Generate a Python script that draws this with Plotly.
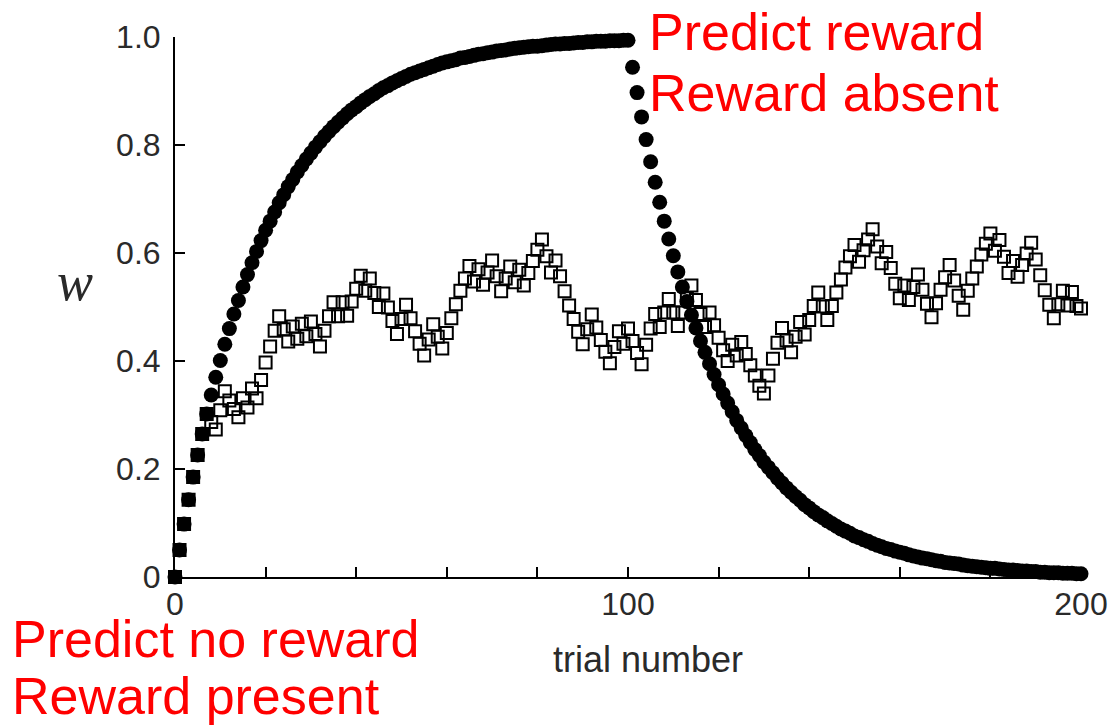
import plotly.graph_objects as go

# trial numbers
trials = list(range(0, 201))

# filled circles: predicted reward w (learning, then extinction)
w_circles = [
    0.000, 0.050, 0.098, 0.143, 0.185, 0.226, 0.265, 0.302, 0.337, 0.370,
    0.401, 0.431, 0.460, 0.487, 0.512, 0.537, 0.560, 0.582, 0.603, 0.623,
    0.642, 0.659, 0.676, 0.693, 0.708, 0.723, 0.736, 0.750, 0.762, 0.774,
    0.785, 0.796, 0.806, 0.816, 0.825, 0.834, 0.842, 0.850, 0.858, 0.865,
    0.871, 0.878, 0.884, 0.890, 0.895, 0.901, 0.906, 0.910, 0.915, 0.919,
    0.923, 0.927, 0.931, 0.934, 0.937, 0.940, 0.943, 0.946, 0.949, 0.952,
    0.954, 0.956, 0.958, 0.961, 0.962, 0.964, 0.966, 0.968, 0.969, 0.971,
    0.972, 0.974, 0.975, 0.976, 0.978, 0.979, 0.980, 0.981, 0.982, 0.983,
    0.983, 0.984, 0.985, 0.986, 0.987, 0.987, 0.988, 0.988, 0.989, 0.990,
    0.990, 0.991, 0.991, 0.992, 0.992, 0.992, 0.993, 0.993, 0.993, 0.994,
    0.994,
    0.944, 0.897, 0.852, 0.810, 0.769, 0.731, 0.694, 0.659, 0.626, 0.595,
    0.565, 0.537, 0.510, 0.485, 0.461, 0.437, 0.416, 0.395, 0.375, 0.356,
    0.339, 0.322, 0.306, 0.290, 0.276, 0.262, 0.249, 0.236, 0.225, 0.213,
    0.203, 0.193, 0.183, 0.174, 0.165, 0.157, 0.149, 0.142, 0.134, 0.128,
    0.121, 0.115, 0.110, 0.104, 0.099, 0.094, 0.089, 0.085, 0.081, 0.076,
    0.073, 0.069, 0.066, 0.062, 0.059, 0.056, 0.053, 0.051, 0.048, 0.046,
    0.044, 0.041, 0.039, 0.037, 0.035, 0.034, 0.032, 0.030, 0.029, 0.027,
    0.026, 0.025, 0.024, 0.022, 0.021, 0.020, 0.019, 0.018, 0.017, 0.016,
    0.016, 0.015, 0.014, 0.013, 0.013, 0.012, 0.011, 0.011, 0.010, 0.010,
    0.009, 0.009, 0.008, 0.008, 0.008, 0.007, 0.007, 0.007, 0.006, 0.006,
]

# open squares: w under partial (random) reward
w_squares = [
    0.000, 0.050, 0.098, 0.143, 0.185, 0.226, 0.265, 0.302, 0.287, 0.273,
    0.309, 0.344, 0.327, 0.311, 0.296, 0.331, 0.314, 0.349, 0.331, 0.365,
    0.397, 0.427, 0.456, 0.483, 0.459, 0.436, 0.464, 0.441, 0.469, 0.446,
    0.473, 0.450, 0.427, 0.456, 0.483, 0.509, 0.483, 0.509, 0.484, 0.510,
    0.534, 0.558, 0.530, 0.553, 0.526, 0.500, 0.525, 0.499, 0.474, 0.450,
    0.478, 0.504, 0.479, 0.455, 0.432, 0.410, 0.440, 0.468, 0.445, 0.423,
    0.452, 0.479, 0.505, 0.530, 0.553, 0.576, 0.547, 0.570, 0.541, 0.564,
    0.586, 0.557, 0.529, 0.553, 0.575, 0.546, 0.569, 0.540, 0.563, 0.585,
    0.606, 0.625, 0.594, 0.564, 0.586, 0.557, 0.529, 0.503, 0.478, 0.454,
    0.431, 0.459, 0.486, 0.462, 0.439, 0.417, 0.396, 0.426, 0.455, 0.432,
    0.460, 0.437, 0.415, 0.394, 0.430, 0.460, 0.487, 0.463, 0.490, 0.515,
    0.490, 0.465, 0.490, 0.516, 0.540, 0.513, 0.487, 0.463, 0.490, 0.466,
    0.443, 0.420, 0.400, 0.430, 0.410, 0.435, 0.413, 0.392, 0.373, 0.354,
    0.340, 0.373, 0.404, 0.434, 0.461, 0.438, 0.416, 0.445, 0.472, 0.449,
    0.476, 0.502, 0.527, 0.501, 0.476, 0.502, 0.527, 0.551, 0.573, 0.594,
    0.615, 0.584, 0.605, 0.625, 0.644, 0.612, 0.581, 0.602, 0.572, 0.543,
    0.516, 0.540, 0.513, 0.537, 0.560, 0.532, 0.506, 0.481, 0.507, 0.532,
    0.555, 0.578, 0.549, 0.521, 0.495, 0.530, 0.553, 0.575, 0.597, 0.617,
    0.636, 0.604, 0.624, 0.593, 0.563, 0.585, 0.556, 0.578, 0.599, 0.619,
    0.588, 0.559, 0.531, 0.504, 0.479, 0.505, 0.530, 0.503, 0.528, 0.502,
    0.497,
]

assert len(w_circles) == len(trials), len(w_circles)
assert len(w_squares) == len(trials), len(w_squares)

x_tickvals = list(range(0, 201, 20))
x_ticktext = ["0", "", "", "", "", "100", "", "", "", "", "200"]
y_tickvals = [0, 0.2, 0.4, 0.6, 0.8, 1.0]
y_ticktext = ["0", "0.2", "0.4", "0.6", "0.8", "1.0"]

W, H = 1120, 726
L, R, T, B = 175, 32, 37, 149
PW, PH = W - L - R, H - T - B


def px(xp):
    return (xp - L) / PW


def py(yp):
    return (H - B - yp) / PH


fig = go.Figure()
fig.add_trace(go.Scatter(
    x=trials, y=w_squares, mode="markers",
    marker=dict(symbol="square-open", size=12, color="black",
                line=dict(width=2, color="black")),
    cliponaxis=False, showlegend=False,
))
fig.add_trace(go.Scatter(
    x=trials, y=w_circles, mode="markers",
    marker=dict(symbol="circle", size=15, color="black", line=dict(width=0)),
    cliponaxis=False, showlegend=False,
))

sans = "Liberation Sans, Arial, sans-serif"
tickfont = dict(family=sans, size=32, color="#2a2a2a")

fig.update_xaxes(
    range=[0, 200], showgrid=False, zeroline=False,
    showline=True, linecolor="black", linewidth=2,
    ticks="inside", ticklen=10, tickwidth=1.5, tickcolor="black",
    tickvals=x_tickvals, ticktext=x_ticktext, tickfont=tickfont,
    ticklabelstandoff=-2,
)
fig.update_yaxes(
    range=[0, 1], showgrid=False, zeroline=False,
    showline=True, linecolor="black", linewidth=2,
    ticks="inside", ticklen=10, tickwidth=1.5, tickcolor="black",
    tickvals=y_tickvals, ticktext=y_ticktext, tickfont=tickfont,
    ticklabelstandoff=6,
)

red = dict(family=sans, size=52, color="red")
annotations = [
    dict(text="Predict reward", x=px(651), y=py(32), xanchor="left", yanchor="middle"),
    dict(text="Reward absent", x=px(651), y=py(93), xanchor="left", yanchor="middle"),
    dict(text="Predict no reward", x=px(9), y=py(639), xanchor="left", yanchor="middle"),
    dict(text="Reward present", x=px(9), y=py(696), xanchor="left", yanchor="middle"),
]
for a in annotations:
    fig.add_annotation(xref="paper", yref="paper", showarrow=False, font=red, **a)

fig.add_annotation(
    xref="paper", yref="paper", showarrow=False,
    text="trial number", x=px(652), y=py(659), xanchor="center", yanchor="middle",
    font=dict(family=sans, size=36, color="#2a2a2a"),
)
fig.add_annotation(
    xref="paper", yref="paper", showarrow=False,
    text="<i>w</i>", x=px(74), y=py(282), xanchor="center", yanchor="middle",
    font=dict(family="Liberation Serif, Times New Roman, serif", size=54, color="#2a2a2a"),
)

fig.update_layout(
    width=W, height=H,
    margin=dict(l=L, r=R, t=T, b=B, pad=0),
    paper_bgcolor="white", plot_bgcolor="white",
)

fig.write_html("out.html")
